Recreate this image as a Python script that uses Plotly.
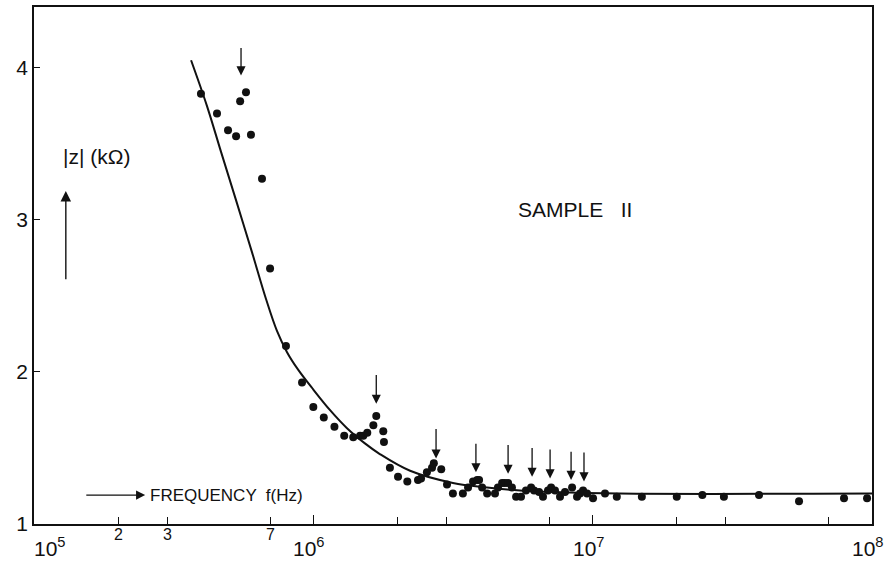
import plotly.graph_objects as go
import numpy as np

# measured points: frequency (Hz) and |Z| (kOhm)
meas_freq = [3.96e5, 4.52e5, 4.95e5, 5.29e5, 5.47e5, 5.74e5, 5.98e5, 6.55e5, 7.00e5,
             7.98e5, 9.11e5, 1.00e6, 1.09e6, 1.19e6, 1.29e6, 1.39e6, 1.47e6, 1.51e6,
             1.56e6, 1.64e6, 1.68e6, 1.78e6, 1.79e6, 1.88e6, 2.01e6, 2.17e6, 2.37e6,
             2.43e6, 2.55e6, 2.66e6, 2.70e6, 2.87e6, 3.01e6, 3.16e6, 3.43e6, 3.58e6,
             3.73e6, 3.86e6, 3.92e6, 4.02e6, 4.19e6, 4.47e6, 4.58e6, 4.74e6, 4.85e6,
             4.98e6, 5.14e6, 5.32e6, 5.54e6, 5.77e6, 6.02e6, 6.17e6, 6.43e6, 6.64e6,
             6.92e6, 7.10e6, 7.33e6, 7.64e6, 7.96e6, 8.44e6, 8.79e6, 9.01e6, 9.24e6,
             9.55e6, 1.003e7, 1.107e7, 1.22e7, 1.50e7, 2.00e7, 2.47e7, 2.95e7, 3.94e7,
             5.48e7, 7.94e7, 9.60e7]
meas_z = [3.83, 3.70, 3.59, 3.55, 3.78, 3.84, 3.56, 3.27, 2.68,
          2.17, 1.93, 1.77, 1.70, 1.64, 1.58, 1.57, 1.58, 1.58,
          1.60, 1.65, 1.71, 1.61, 1.54, 1.37, 1.31, 1.28, 1.29,
          1.30, 1.34, 1.37, 1.40, 1.36, 1.26, 1.20, 1.20, 1.24,
          1.28, 1.29, 1.29, 1.24, 1.20, 1.20, 1.24, 1.27, 1.27,
          1.27, 1.24, 1.18, 1.18, 1.22, 1.24, 1.22, 1.21, 1.18,
          1.22, 1.24, 1.22, 1.18, 1.21, 1.24, 1.18, 1.20, 1.22,
          1.20, 1.17, 1.20, 1.18, 1.18, 1.18, 1.19, 1.18, 1.19,
          1.15, 1.17, 1.17]

# theoretical curve
curve_freq = [3.65e5, 4.16e5, 4.67e5, 5.29e5, 6.03e5, 6.77e5, 7.41e5, 8.05e5, 8.82e5,
              1.0e6, 1.15e6, 1.32e6, 1.53e6, 1.73e6, 2.22e6, 3.16e6, 4.19e6, 5.50e6,
              7.21e6, 1.25e7, 1.0e8]
curve_z = [4.05, 3.75, 3.449, 3.128, 2.788, 2.48, 2.27, 2.13, 2.015,
           1.884, 1.747, 1.63, 1.53, 1.46, 1.35, 1.27, 1.24, 1.22,
           1.21, 1.20, 1.20]

# resonance arrows: frequency, tip value, tail value
arrow_freq = [5.51e5, 1.68e6, 2.75e6, 3.82e6, 4.98e6, 6.07e6, 7.04e6, 8.37e6, 9.31e6]
arrow_tip = [3.95, 1.79, 1.43, 1.34, 1.33, 1.31, 1.30, 1.29, 1.28]
arrow_tail = [4.14, 1.99, 1.635, 1.537, 1.53, 1.51, 1.50, 1.485, 1.48]

y_ticks = [1, 2, 3, 4]
x_major = [1e5, 1e6, 1e7, 1e8]
x_major_labels = ["10<sup>5</sup>", "10<sup>6</sup>", "10<sup>7</sup>", "10<sup>8</sup>"]
x_minor = [2e5, 3e5, 7e5, 2e6, 3e6, 7e6, 2e7, 3e7, 7e7]
x_minor_labeled = [2e5, 3e5, 7e5]
x_minor_labels = ["2", "3", "7"]

FONT = "Liberation Sans"
INK = "#111111"

fig = go.Figure()
fig.add_trace(go.Scatter(x=curve_freq, y=curve_z, mode="lines",
                         line=dict(color=INK, width=2, shape="spline", smoothing=1.0),
                         hoverinfo="skip"))
fig.add_trace(go.Scatter(x=meas_freq, y=meas_z, mode="markers",
                         marker=dict(color=INK, size=8), hoverinfo="skip"))

annotations = []
for f, tip, tail in zip(arrow_freq, arrow_tip, arrow_tail):
    annotations.append(dict(x=np.log10(f), y=tip, ax=np.log10(f), ay=tail,
                            xref="x", yref="y", axref="x", ayref="y",
                            showarrow=True, arrowhead=2, arrowsize=1.4, arrowwidth=1.3,
                            arrowcolor=INK, text=""))
for i, (v, t) in enumerate(zip(x_major, x_major_labels)):
    annotations.append(dict(x=np.log10(v), y=0, xref="x", yref="paper", yanchor="top",
                            yshift=-8, xshift=(16 if i == 0 else -4), text=t,
                            showarrow=False, font=dict(family=FONT, size=21, color=INK)))
for v, t in zip(x_minor_labeled, x_minor_labels):
    annotations.append(dict(x=np.log10(v), y=0, xref="x", yref="paper", yanchor="top",
                            yshift=0, text=t, showarrow=False,
                            font=dict(family=FONT, size=16, color=INK)))
# axis label texts
annotations.append(dict(x=np.log10(1.67e5), y=3.42, xref="x", yref="y", text="|z| (kΩ)",
                        showarrow=False, xanchor="center",
                        font=dict(family=FONT, size=21, color=INK)))
annotations.append(dict(x=np.log10(1.30e5), y=3.19, ax=np.log10(1.30e5), ay=2.60,
                        xref="x", yref="y", axref="x", ayref="y", text="",
                        showarrow=True, arrowhead=2, arrowsize=1.5, arrowwidth=1.4,
                        arrowcolor=INK))
annotations.append(dict(x=np.log10(8.65e6), y=3.07, xref="x", yref="y", text="SAMPLE   II",
                        showarrow=False, font=dict(family=FONT, size=21, color=INK)))
annotations.append(dict(x=np.log10(2.5e5), y=1.19, ax=np.log10(1.52e5), ay=1.19,
                        xref="x", yref="y", axref="x", ayref="y", text="",
                        showarrow=True, arrowhead=2, arrowsize=1.4, arrowwidth=1.3,
                        arrowcolor=INK))
annotations.append(dict(x=np.log10(2.56e5), y=1.19, xref="x", yref="y",
                        text="FREQUENCY  f(Hz)", xanchor="left", showarrow=False,
                        font=dict(family=FONT, size=17, color=INK)))

fig.update_layout(
    width=891, height=564,
    margin=dict(l=34, r=19, t=5, b=40),
    paper_bgcolor="white", plot_bgcolor="white",
    showlegend=False,
    annotations=annotations,
    xaxis=dict(type="log", range=[5, 8], tickvals=x_major, showticklabels=False,
               ticks="inside", ticklen=9, tickwidth=1.3, tickcolor=INK,
               showline=True, linecolor=INK, linewidth=1.5, mirror=True,
               showgrid=False, zeroline=False,
               minor=dict(tickvals=x_minor, ticks="inside", ticklen=7, tickwidth=1.1,
                          tickcolor=INK, showgrid=False)),
    yaxis=dict(range=[1, 4.40], tickvals=y_ticks, ticks="inside", ticklen=6,
               tickwidth=1.3, tickcolor=INK, showline=True, linecolor=INK, linewidth=1.5,
               mirror=True, showgrid=False, zeroline=False,
               tickfont=dict(family=FONT, size=21, color=INK)),
)

fig.write_html("out.html", config={"displayModeBar": False})

# remove the browser's default page margin so the figure sits at the top-left corner
with open("out.html", "r", encoding="utf-8") as fh:
    html = fh.read()
html = html.replace("<body>", '<body style="margin:0;padding:0;overflow:hidden">', 1)
with open("out.html", "w", encoding="utf-8") as fh:
    fh.write(html)
